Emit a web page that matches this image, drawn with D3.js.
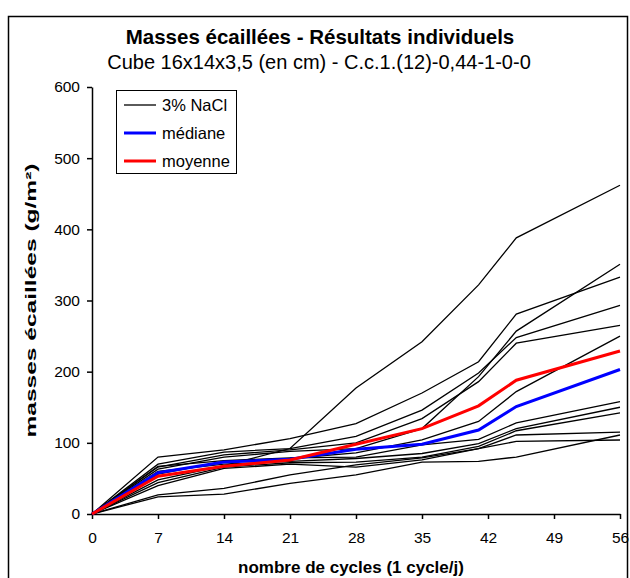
<!DOCTYPE html>
<html>
<head>
<meta charset="utf-8">
<script src="https://cdn.jsdelivr.net/npm/d3@7"></script>
<style>
  body { margin: 0; background: #fff; }
  svg { display: block; font-family: "Liberation Sans", Arial, sans-serif; }
</style>
</head>
<body>
<div id="chart"></div>
<script>
// ---- data ----
const cycles = [0, 7, 14, 21, 28, 35, 41, 45, 56];
const xTicks = [0, 7, 14, 21, 28, 35, 42, 49, 56];
const yTicks = [0, 100, 200, 300, 400, 500, 600];

const specimen1  = [0, 48, 68, 92, 177, 242, 322, 388, 462];
const specimen2  = [0, 63, 80, 88, 92, 120, 193, 257, 351];
const specimen3  = [0, 80, 90, 106, 127, 170, 214, 281, 333];
const specimen4  = [0, 70, 87, 92, 109, 146, 198, 248, 293];
const specimen5  = [0, 66, 83, 90, 100, 134, 186, 240, 265];
const specimen6  = [0, 56, 74, 78, 86, 104, 130, 172, 250];
const specimen7  = [0, 67, 75, 79, 80, 97, 105, 128, 158];
const specimen8  = [0, 60, 70, 74, 78, 85, 99, 120, 150];
const specimen9  = [0, 44, 66, 72, 73, 80, 95, 117, 142];
const specimen10 = [0, 40, 64, 70, 66, 76, 92, 111, 115];
const specimen11 = [0, 27, 36, 55, 69, 79, 92, 102, 104];
const specimen12 = [0, 24, 28, 43, 55, 73, 74, 80, 111];
const specimens = [specimen1, specimen2, specimen3, specimen4, specimen5, specimen6,
                   specimen7, specimen8, specimen9, specimen10, specimen11, specimen12];

const median = [0, 58, 73, 77, 91, 98, 118, 151, 203];
const mean   = [0, 53, 67, 76, 98, 120, 152, 188, 229];

const legendItems = [
  { label: "3% NaCl", color: "#000000", width: 1.3 },
  { label: "médiane", color: "#0000ff", width: 3 },
  { label: "moyenne", color: "#ff0000", width: 3 }
];

// ---- layout ----
const W = 630, H = 578;
const svg = d3.select("#chart").append("svg").attr("width", W).attr("height", H);

svg.append("rect").attr("x", 8.5).attr("y", 16.5).attr("width", 619).attr("height", 600)
  .attr("fill", "#fff").attr("stroke", "#000").attr("stroke-width", 1.5);

const x = d3.scaleLinear().domain([0, 56]).range([92, 620]);
const y = d3.scaleLinear().domain([0, 600]).range([514, 87]);

// titles
svg.append("text").attr("x", 320).attr("y", 44).attr("text-anchor", "middle")
  .attr("font-size", 20.5).attr("font-weight", "bold").text("Masses écaillées - Résultats individuels");
svg.append("text").attr("x", 319).attr("y", 69).attr("text-anchor", "middle")
  .attr("font-size", 20).text("Cube 16x14x3,5 (en cm) - C.c.1.(12)-0,44-1-0-0");

// axes
const gx = svg.append("g").attr("transform", `translate(0,${y(0)})`)
  .call(d3.axisBottom(x).tickValues(xTicks).tickSize(5).tickPadding(13).tickSizeOuter(0));
const gy = svg.append("g").attr("transform", `translate(${x(0)},0)`)
  .call(d3.axisLeft(y).tickValues(yTicks).tickSize(5).tickPadding(7).tickSizeOuter(0));
[gx, gy].forEach(g => {
  g.selectAll("path").attr("stroke", "#000").attr("stroke-width", 1.5);
  g.selectAll("line").attr("stroke", "#000").attr("stroke-width", 1.5);
  g.selectAll("text").attr("font-size", 15.5).attr("fill", "#000")
    .attr("font-family", "Liberation Sans, Arial, sans-serif");
});

svg.append("text").attr("x", 351).attr("y", 573).attr("text-anchor", "middle")
  .attr("font-size", 17).attr("font-weight", "bold").text("nombre de cycles (1 cycle/j)");
svg.append("text").attr("transform", `translate(36,${(y(0) + y(600)) / 2}) rotate(-90)`)
  .attr("text-anchor", "middle").attr("font-size", 15).attr("font-weight", "bold")
  .attr("textLength", 274).attr("lengthAdjust", "spacingAndGlyphs")
  .text("masses écaillées (g/m²)");

// lines
const line = d3.line().x((d, i) => x(cycles[i])).y(d => y(d));
const plot = svg.append("g");
specimens.forEach(s => {
  plot.append("path").datum(s).attr("d", line).attr("fill", "none")
    .attr("stroke", "#000").attr("stroke-width", 1.3);
});
plot.append("path").datum(median).attr("d", line).attr("fill", "none")
  .attr("stroke", "#0000ff").attr("stroke-width", 3);
plot.append("path").datum(mean).attr("d", line).attr("fill", "none")
  .attr("stroke", "#ff0000").attr("stroke-width", 3);

// legend
const lg = svg.append("g");
lg.append("rect").attr("x", 116.5).attr("y", 90.5).attr("width", 120).attr("height", 83)
  .attr("fill", "#fff").attr("stroke", "#000").attr("stroke-width", 1);
legendItems.forEach((it, i) => {
  const yy = 105 + i * 28;
  lg.append("line").attr("x1", 124).attr("x2", 156).attr("y1", yy).attr("y2", yy)
    .attr("stroke", it.color).attr("stroke-width", it.width);
  lg.append("text").attr("x", 162).attr("y", yy + 6).attr("font-size", 16.5).text(it.label);
});
</script>
</body>
</html>
